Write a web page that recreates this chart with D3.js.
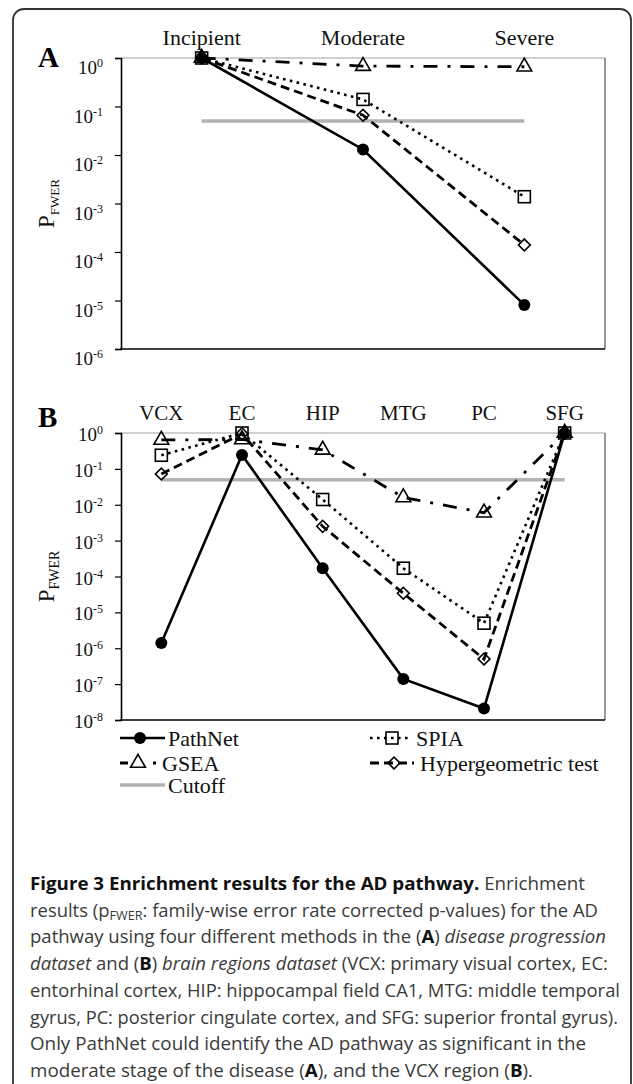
<!DOCTYPE html>
<html><head><meta charset="utf-8">
<script src="https://cdn.jsdelivr.net/npm/d3@7"></script>
<style>body{margin:0;background:#fff} svg{display:block}</style>
</head><body><svg id="c" width="633" height="1084"></svg>
<script>
// ---------- data ----------
const stagesA   = ["Incipient", "Moderate", "Severe"];
const pathnetA  = [1, 0.013, 8.1e-6];
const spiaA     = [1, 0.14, 0.00138];
const gseaA     = [1, 0.68, 0.66];
const hyperA    = [1, 0.066, 0.00014];

const regionsB  = ["VCX", "EC", "HIP", "MTG", "PC", "SFG"];
const pathnetB  = [1.4e-6, 0.245, 1.7e-4, 1.4e-7, 2.1e-8, 1];
const spiaB     = [0.24, 1, 0.014, 1.7e-4, 5e-6, 1];
const gseaB     = [0.64, 0.66, 0.34, 0.016, 0.006, 1];
const hyperB    = [0.072, 0.95, 0.0025, 3.4e-5, 5e-7, 1];

const cutoff    = 0.05;
const ticksA    = [1, 1e-1, 1e-2, 1e-3, 1e-4, 1e-5, 1e-6];
const ticksB    = [1, 1e-1, 1e-2, 1e-3, 1e-4, 1e-5, 1e-6, 1e-7, 1e-8];
const seriesNames = ["PathNet", "SPIA", "GSEA", "Hypergeometric test"];
const cutoffName  = "Cutoff";

// ---------- styles ----------
const styles = {
  "PathNet": {dash: null, width: 2.6, marker: "circle"},
  "SPIA": {dash: "2.6,4.4", width: 2.6, marker: "square"},
  "GSEA": {dash: "14,10,3,10", width: 2.8, marker: "triangle"},
  "Hypergeometric test": {dash: "9,5", width: 2.8, marker: "diamond"}
};
const serif = "'Liberation Serif','Times New Roman',serif";
const svg = d3.select("#c");

// outer rounded box
svg.append("rect").attr("x", 13).attr("y", 9).attr("width", 618).attr("height", 1100)
  .attr("rx", 11).attr("fill", "none").attr("stroke", "#333").attr("stroke-width", 1.8);

function drawMarker(g, type, cx, cy) {
  if (type === "circle") {
    g.append("circle").attr("cx", cx).attr("cy", cy).attr("r", 6).attr("fill", "#000");
  } else if (type === "square") {
    g.append("rect").attr("x", cx - 6).attr("y", cy - 6).attr("width", 12).attr("height", 12)
      .attr("fill", "none").attr("stroke", "#000").attr("stroke-width", 1.6);
  } else if (type === "triangle") {
    g.append("path").attr("d", d3.symbol().type(d3.symbolTriangle).size(95)())
      .attr("transform", `translate(${cx},${cy})`)
      .attr("fill", "none").attr("stroke", "#000").attr("stroke-width", 1.6);
  } else if (type === "diamond") {
    g.append("path").attr("d", d3.symbol().type(d3.symbolSquare).size(70)())
      .attr("transform", `translate(${cx},${cy}) rotate(45)`)
      .attr("fill", "none").attr("stroke", "#000").attr("stroke-width", 1.6);
  }
}

function panel(cfg) {
  const g = svg.append("g");
  const x = d3.scalePoint().domain(cfg.cats).range([cfg.left, cfg.right]).padding(0.5);
  const y = d3.scaleLog().domain(cfg.domain).range([cfg.bottom, cfg.top]);

  // frame: top gray, right dark
  g.append("line").attr("x1", cfg.left).attr("x2", cfg.right).attr("y1", cfg.top).attr("y2", cfg.top)
    .attr("stroke", "#a0a0a0").attr("stroke-width", 1);
  g.append("line").attr("x1", cfg.right).attr("x2", cfg.right).attr("y1", cfg.top).attr("y2", cfg.bottom)
    .attr("stroke", "#555").attr("stroke-width", 1.2);

  // left axis via d3
  const ax = g.append("g").attr("transform", `translate(${cfg.left},0)`)
    .call(d3.axisLeft(y).tickValues(cfg.ticks).tickSize(6).tickFormat(""));
  ax.select(".domain").attr("stroke", "#000").attr("stroke-width", 1.6);
  ax.selectAll(".tick line").attr("stroke", "#000").attr("stroke-width", 1.2);
  // bottom axis
  g.append("line").attr("x1", cfg.left - 1).attr("x2", cfg.right).attr("y1", cfg.bottom).attr("y2", cfg.bottom)
    .attr("stroke", "#000").attr("stroke-width", 1.6);

  // tick labels 10^n
  cfg.ticks.forEach(v => {
    const e = Math.round(Math.log10(v));
    const t = g.append("text").attr("x", cfg.left - 18).attr("y", y(v) + cfg.labelDy)
      .attr("text-anchor", "end").attr("font-family", serif).attr("font-size", 19).attr("fill", "#111");
    t.append("tspan").text("10");
    t.append("tspan").attr("font-size", 12).attr("dy", -7).text(e === 0 ? "0" : "-" + Math.abs(e));
  });

  // category labels on top
  cfg.cats.forEach(c => {
    g.append("text").attr("x", x(c)).attr("y", cfg.top - 13).attr("text-anchor", "middle")
      .attr("font-family", serif).attr("font-size", cfg.catSize).attr("fill", "#111").text(c);
  });

  // panel letter
  g.append("text").attr("x", 38).attr("y", cfg.letterY).attr("font-family", serif)
    .attr("font-weight", "bold").attr("font-size", 29).attr("fill", "#000").text(cfg.letter);

  // y title
  const yt = g.append("text").attr("transform", `translate(54,${(cfg.top + cfg.bottom) / 2}) rotate(-90)`)
    .attr("text-anchor", "middle").attr("font-family", serif).attr("fill", "#111");
  yt.append("tspan").attr("font-size", 23).text("P");
  yt.append("tspan").attr("font-size", cfg.subSize).attr("dy", 5).text("FWER");

  // cutoff
  g.append("line").attr("x1", x(cfg.cats[0])).attr("x2", x(cfg.cats[cfg.cats.length - 1]))
    .attr("y1", y(cutoff)).attr("y2", y(cutoff)).attr("stroke", "#b3b3b3").attr("stroke-width", 3.5);

  const line = d3.line().x((d, i) => x(cfg.cats[i])).y(d => y(d));
  const order = ["GSEA", "SPIA", "Hypergeometric test", "PathNet"];
  order.forEach(name => {
    const st = styles[name];
    g.append("path").attr("d", line(cfg.data[name])).attr("fill", "none").attr("stroke", "#000")
      .attr("stroke-width", st.width).attr("stroke-dasharray", st.dash);
  });
  order.forEach(name => {
    cfg.data[name].forEach((v, i) => drawMarker(g, styles[name].marker, x(cfg.cats[i]), y(v)));
  });
}

panel({cats: stagesA, domain: [1e-6, 1], top: 58, bottom: 349, left: 121, right: 605,
  ticks: ticksA, labelDy: 16, catSize: 22, letter: "A", letterY: 67, subSize: 13,
  data: {"PathNet": pathnetA, "SPIA": spiaA, "GSEA": gseaA, "Hypergeometric test": hyperA}});

panel({cats: regionsB, domain: [1e-8, 1], top: 433, bottom: 720, left: 121, right: 605,
  ticks: ticksB, labelDy: 8, catSize: 21, letter: "B", letterY: 427, subSize: 14,
  data: {"PathNet": pathnetB, "SPIA": spiaB, "GSEA": gseaB, "Hypergeometric test": hyperB}});

// ---------- legend ----------
const lg = svg.append("g");
const legendItems = [
  {name: seriesNames[0], x0: 120, x1: 165, mx: 140, tx: 168, y: 738, dash: null},
  {name: seriesNames[1], x0: 370, x1: 412, mx: 392, tx: 416, y: 738, dash: "2.6,4.4"},
  {name: seriesNames[2], x0: 120, x1: 158, mx: 138, tx: 162, y: 763, dash: "8,25,3,40"},
  {name: seriesNames[3], x0: 370, x1: 414, mx: 394, tx: 420, y: 763, dash: "9,5"}
];
legendItems.forEach(it => {
  const st = styles[it.name];
  lg.append("line").attr("x1", it.x0).attr("x2", it.x1).attr("y1", it.y).attr("y2", it.y)
    .attr("stroke", "#000").attr("stroke-width", st.width).attr("stroke-dasharray", it.dash);
  drawMarker(lg, st.marker, it.mx, it.y);
  lg.append("text").attr("x", it.tx).attr("y", it.y + 8).attr("font-family", serif)
    .attr("font-size", 22).attr("fill", "#111").text(it.name);
});
lg.append("line").attr("x1", 120).attr("x2", 165).attr("y1", 785).attr("y2", 785)
  .attr("stroke", "#b3b3b3").attr("stroke-width", 3.5);
lg.append("text").attr("x", 168).attr("y", 793).attr("font-family", serif)
  .attr("font-size", 22).attr("fill", "#111").text(cutoffName);

// ---------- caption ----------
const sans = "'Open Sans','Noto Sans',sans-serif";
const captionLines = [
  {w: 555, parts: [["Figure 3 Enrichment results for the AD pathway.", "b"], [" Enrichment", ""]]},
  {w: 568, parts: [["results (p", ""], ["FWER", "sub"], [": family-wise error rate corrected p-values) for the AD", ""]]},
  {w: 576, parts: [["pathway using four different methods in the (", ""], ["A", "b"], [") ", ""], ["disease progression", "i"]]},
  {w: 578, parts: [["dataset", "i"], [" and (", ""], ["B", "b"], [") ", ""], ["brain regions dataset", "i"], [" (VCX: primary visual cortex, EC:", ""]]},
  {w: 590, parts: [["entorhinal cortex, HIP: hippocampal field CA1, MTG: middle temporal", ""]]},
  {w: 588, parts: [["gyrus, PC: posterior cingulate cortex, and SFG: superior frontal gyrus).", ""]]},
  {w: 556, parts: [["Only PathNet could identify the AD pathway as significant in the", ""]]},
  {w: 503, parts: [["moderate stage of the disease (", ""], ["A", "b"], ["), and the VCX region (", ""], ["B", "b"], [").", ""]]}
];
captionLines.forEach((ln, i) => {
  const t = svg.append("text").attr("x", 30).attr("y", 890 + i * 26.7)
    .attr("font-family", sans).attr("font-size", 17.5).attr("fill", "#3a3a3a")
    .attr("textLength", ln.w).attr("lengthAdjust", "spacingAndGlyphs");
  ln.parts.forEach(([s, st]) => {
    const sp = t.append("tspan").text(s);
    if (st === "b") sp.attr("font-weight", "bold").attr("fill", "#111");
    if (st === "i") sp.attr("font-style", "italic");
    if (st === "sub") sp.attr("font-size", 12).attr("baseline-shift", "-3");
  });
});
</script></body></html>
